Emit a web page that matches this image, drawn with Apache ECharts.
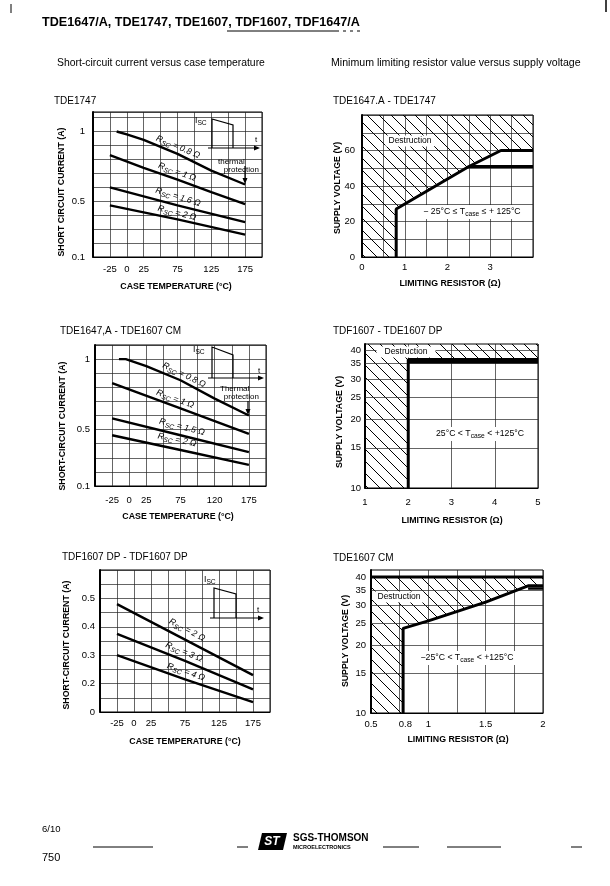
<!DOCTYPE html>
<html>
<head>
<meta charset="utf-8">
<title>TDE1647/A, TDE1747, TDE1607, TDF1607, TDF1647/A</title>
<script src="https://cdn.jsdelivr.net/npm/echarts@6.0.0/dist/echarts.min.js"></script>
<style>
  html, body { margin: 0; padding: 0; background: #fff; }
  #page { width: 610px; height: 886px; }
</style>
</head>
<body>
<div id="page"></div>
<script>
// ---- values ----

// case temperature axis (°C)
var tempTicks = [-25, 0, 25, 75, 125, 175];
var tempText = ['-25', '0', '25', '75', '125', '175'];
var tempText3 = ['-25', '0', '25', '75', '120', '175'];

// short-circuit current (A), TDE1747
var currentTicks = [0.1, 0.5, 1];
var currentText = ['0.1', '0.5', '1'];
var tde1747R08 = [[-15, 1.0], [0, 0.98], [25, 0.94], [75, 0.84], [125, 0.72], [175, 0.62]];
var tde1747R1 = [[-25, 0.83], [25, 0.74], [75, 0.655], [125, 0.565], [175, 0.48]];
var tde1747R16 = [[-25, 0.6], [75, 0.47], [175, 0.35]];
var tde1747R2 = [[-25, 0.47], [75, 0.37], [175, 0.26]];

// short-circuit current (A), TDE1647,A - TDE1607 CM
var cmR08 = [[-15, 1.0], [-5, 1.0], [25, 0.95], [75, 0.85], [125, 0.72], [175, 0.6]];
var cmR1 = [[-25, 0.83], [75, 0.65], [175, 0.47]];
var cmR15 = [[-25, 0.58], [75, 0.46], [175, 0.34]];
var cmR2 = [[-25, 0.46], [75, 0.355], [175, 0.25]];

// short-circuit current (A), TDF1607 DP
var dpTicks = [0.1, 0.2, 0.3, 0.4, 0.5];
var dpText = ['0', '0.2', '0.3', '0.4', '0.5'];
var dpR2 = [[-25, 0.48], [75, 0.355], [175, 0.23]];
var dpR3 = [[-25, 0.375], [75, 0.28], [175, 0.18]];
var dpR4 = [[-25, 0.3], [75, 0.215], [175, 0.135]];

// minimum limiting resistor (ohm) vs supply voltage (V)
var res2Ticks = [0, 1, 2, 3];
var volt2Ticks = [0, 20, 40, 60];
var tde1747Limit = [[0.8, 0], [0.8, 27], [2.5, 51], [3.25, 60], [4, 60]];
var tde1747Limit2 = [[2.5, 51], [4, 51]];

var res4Ticks = [1, 2, 3, 4, 5];
var voltLogTicks = [10, 15, 20, 25, 30, 35, 40];
var dpLimit = [[2, 10], [2, 36.5], [5, 36.5]];
var dpLimit2 = [[2, 35.5], [5, 35.5]];

var res6Ticks = [0.5, 0.8, 1, 1.5, 2];
var cmLimit = [[0.78, 10], [0.78, 23.7], [1.0, 25.6], [1.5, 31], [1.87, 36.6], [2, 36.6]];
var cmLimit2 = [[1.87, 35.6], [2, 35.6]];
var cmMaxVolt = [[0.5, 40], [2, 40]];

var FONT = '"Liberation Sans", Arial, Helvetica, sans-serif';

// diagonal hatching used for the "Destruction" areas
var hatchCanvas = document.createElement('canvas');
hatchCanvas.width = 12;
hatchCanvas.height = 12;
(function () {
    var ctx = hatchCanvas.getContext('2d');
    ctx.strokeStyle = '#000';
    ctx.lineWidth = 1;
    ctx.beginPath();
    ctx.moveTo(-1, -1); ctx.lineTo(13, 13);
    ctx.moveTo(-7, 5); ctx.lineTo(7, 19);
    ctx.moveTo(5, -7); ctx.lineTo(19, 7);
    ctx.stroke();
})();

function pick(vals, texts) {
    return function (v) {
        for (var i = 0; i < vals.length; i++) {
            if (Math.abs(vals[i] - v) < 1e-6) return texts ? texts[i] : String(vals[i]);
        }
        return '';
    };
}

var gridBox = { show: true, borderColor: '#000', borderWidth: 1, outerBoundsMode: 'none' };
var grids = [
    { left: 93, top: 112, width: 169, height: 145 },
    { left: 362, top: 115, width: 171, height: 142 },
    { left: 95, top: 345, width: 171, height: 141 },
    { left: 365, top: 344, width: 173, height: 144 },
    { left: 100, top: 570, width: 170, height: 142 },
    { left: 371, top: 570, width: 172, height: 143 }
].map(function (g) { return Object.assign({}, gridBox, g); });

var splitStyle = { show: true, lineStyle: { color: '#222', width: 0.7 } };

function linAxis(gi, min, max, interval, vals, texts, margin, isY) {
    return {
        type: 'value', gridIndex: gi, min: min, max: max, interval: interval,
        axisLine: { show: true, onZero: false, lineStyle: { color: '#000', width: isY ? 2 : 1.2 } },
        axisTick: { show: false },
        splitLine: splitStyle,
        axisLabel: { margin: margin, color: '#000', fontSize: 9.5, fontFamily: FONT, formatter: pick(vals, texts) }
    };
}

function logAxis(gi, max, margin) {
    return {
        type: 'log', logBase: 10, gridIndex: gi, min: 10, max: max,
        axisLine: { show: true, onZero: false, lineStyle: { color: '#000', width: 2 } },
        axisTick: { show: false },
        splitLine: { show: false },
        axisLabel: { margin: margin, color: '#000', fontSize: 9.5, fontFamily: FONT, customValues: voltLogTicks }
    };
}

var x6 = linAxis(5, 0.5, 2, 0.25, res6Ticks, null, 6, false);
x6.axisLabel.formatter = null;
x6.axisLabel.customValues = res6Ticks;

var xAxes = [
    linAxis(0, -50, 200, 25, tempTicks, tempText, 7, false),
    linAxis(1, 0, 4, 0.5, res2Ticks, null, 5, false),
    linAxis(2, -50, 200, 25, tempTicks, tempText3, 9, false),
    linAxis(3, 1, 5, 1, res4Ticks, null, 9, false),
    linAxis(4, -50, 200, 25, tempTicks, tempText, 6, false),
    x6
];
var yAxes = [
    linAxis(0, 0.1, 1.14, 0.1, currentTicks, currentText, 8, true),
    linAxis(1, 0, 80, 10, volt2Ticks, null, 7, true),
    linAxis(2, 0.1, 1.1, 0.1, currentTicks, currentText, 5, true),
    logAxis(3, 42.7, 4),
    linAxis(4, 0.1, 0.6, 0.05, dpTicks, dpText, 5, true),
    logAxis(5, 43, 5)
];

function curve(gi, data, w) {
    return {
        type: 'line', xAxisIndex: gi, yAxisIndex: gi, data: data, symbol: 'none', silent: true,
        lineStyle: { color: '#000', width: w || 2.4 }, z: 5
    };
}

function destruction(gi, data, origin, logGrid) {
    var s = {
        type: 'line', xAxisIndex: gi, yAxisIndex: gi, data: data, symbol: 'none', silent: true,
        lineStyle: { width: 0, opacity: 0 },
        areaStyle: { color: { image: hatchCanvas, repeat: 'repeat' }, opacity: 1, origin: origin },
        z: 3
    };
    if (logGrid) {
        s.markLine = {
            silent: true, symbol: ['none', 'none'], label: { show: false },
            lineStyle: { color: '#222', width: 0.7, type: 'solid' },
            data: voltLogTicks.slice(1).map(function (v) { return { yAxis: v }; })
        };
    }
    return s;
}

var series = [
    curve(0, tde1747R08), curve(0, tde1747R1), curve(0, tde1747R16), curve(0, tde1747R2),
    destruction(1, [[0, 0]].concat(tde1747Limit), 'end'),
    curve(1, tde1747Limit, 3), curve(1, tde1747Limit2, 3),
    curve(2, cmR08), curve(2, cmR1), curve(2, cmR15), curve(2, cmR2),
    destruction(3, [[1, 10]].concat(dpLimit), 'end', true),
    curve(3, dpLimit, 3), curve(3, dpLimit2, 2.5),
    curve(4, dpR2), curve(4, dpR3), curve(4, dpR4),
    destruction(5, [[0.5, 10]].concat(cmLimit), 40, true),
    curve(5, cmLimit, 3), curve(5, cmLimit2, 2.5), curve(5, cmMaxVolt, 3)
];

// ---- page text and the small pulse sketches ----
function T(x, y, text, o) {
    o = o || {};
    var st = {
        text: text, fill: o.fill || '#000', fontFamily: FONT, fontSize: o.size || 9.5,
        fontWeight: o.bold ? 'bold' : 'normal', fontStyle: o.italic ? 'italic' : 'normal',
        align: o.align || 'left', textAlign: o.align || 'left',
        verticalAlign: 'middle', textVerticalAlign: 'middle'
    };
    if (o.bg) { st.backgroundColor = o.bg; st.padding = o.pad || [1, 3]; }
    if (o.rich) st.rich = o.rich;
    return { type: 'text', x: x, y: y, rotation: o.rot || 0, z: 100, silent: true, style: st };
}
function L(points, w, dash) {
    return {
        type: 'polyline', z: 100, silent: true, shape: { points: points },
        style: { stroke: '#000', lineWidth: w || 1, lineDash: dash || null, fill: null }
    };
}
function head(x, y, dir) {
    var p = dir === 'right' ? [[x, y], [x - 6, y - 2.5], [x - 6, y + 2.5]]
        : [[x, y], [x - 2.5, y - 6], [x + 2.5, y - 6]];
    return { type: 'polygon', z: 100, silent: true, shape: { points: p }, style: { fill: '#000' } };
}

function subText(size, italic) {
    return {
        a: { fontFamily: FONT, fontSize: size, fontStyle: italic ? 'italic' : 'normal', lineHeight: 12, verticalAlign: 'middle' },
        s: { fontFamily: FONT, fontSize: size - 2, fontStyle: italic ? 'italic' : 'normal', lineHeight: 12, verticalAlign: 'bottom' }
    };
}
function rsc(x, y, val, rot) {
    return T(x, y, '{a|R}{s|SC}{a| = ' + val + ' \u03a9}', { align: 'center', rot: rot, rich: subText(8.7, true) });
}
function tcase(x, y, lo, op, hi) {
    return T(x, y, '{a|' + lo + ' ' + op + ' T}{s|case}{a| ' + op + ' ' + hi + '}', {
        align: 'center', bg: '#fff', pad: [1, 2], rich: subText(8.7, false)
    });
}
function isc(x, y) {
    return T(x, y, '{a|I}{s|SC}', { rich: subText(8.7, false) });
}
function pulse(xRise, yTop, xFall, ySlant, yBase, xEnd) {
    return [
        L([[xRise, yBase], [xRise, yTop], [xFall, ySlant], [xFall, yBase]], 1.2),
        L([[xRise - 4, yBase], [xEnd - 4, yBase]], 1.2),
        head(xEnd, yBase, 'right')
    ];
}

var yTitle = 'SHORT CIRCUIT CURRENT (A)';
var yTitle2 = 'SHORT-CIRCUIT CURRENT (A)';
var vTitle = 'SUPPLY VOLTAGE (V)';
var tTitle = 'CASE TEMPERATURE (\u00b0C)';
var rTitle = 'LIMITING RESISTOR (\u03a9)';
var axisFont = { size: 8.8, bold: true, align: 'center' };
function vert(x, y, text) { return T(x, y, text, Object.assign({ rot: Math.PI / 2 }, axisFont)); }

var elements = [
    L([[11, 4], [11, 13]], 1), L([[606, 0], [606, 12]], 1.5),
    T(42, 23, 'TDE1647/A, TDE1747, TDE1607, TDF1607, TDF1647/A', { size: 12.6, bold: true }),
    L([[227, 31], [336, 31]], 1), L([[336, 31], [362, 31]], 1, [3, 4]),
    T(57, 63, 'Short-circuit current versus case temperature', { size: 10.4 }),
    T(331, 63, 'Minimum limiting resistor value versus supply voltage', { size: 10.6 }),

    T(54, 101, 'TDE1747', { size: 10 }),
    T(333, 101, 'TDE1647.A - TDE1747', { size: 10 }),
    T(60, 331, 'TDE1647,A - TDE1607 CM', { size: 10 }),
    T(333, 331, 'TDF1607 - TDE1607 DP', { size: 10 }),
    T(62, 557, 'TDF1607 DP - TDF1607 DP', { size: 10 }),
    T(333, 558, 'TDE1607 CM', { size: 10 }),

    vert(62, 192, yTitle), vert(338, 188, vTitle),
    vert(63, 426, yTitle2), vert(340, 422, vTitle),
    vert(67, 645, yTitle2), vert(346, 641, vTitle),
    T(176, 287, tTitle, axisFont), T(450, 284, rTitle, axisFont),
    T(178, 517, tTitle, axisFont), T(452, 521, rTitle, axisFont),
    T(185, 742, tTitle, axisFont), T(458, 740, rTitle, axisFont),

    // TDE1747 panel
    rsc(178, 147, '0.8', -0.4), rsc(177, 172, '1', -0.35), rsc(178, 197, '1.6', -0.3), rsc(177, 213, '2', -0.25),
    isc(195, 121), T(255, 140, 't', { size: 8 }),
    T(218, 162, 'thermal', { size: 8 }), T(259, 170, 'protection', { size: 8, align: 'right' }),
    L([[245, 166], [245, 178]], 1.2), head(245, 184, 'down'),

    // TDE1647,A - TDE1607 CM panel
    rsc(184, 375, '0.8', -0.45), rsc(175, 399, '1', -0.35), rsc(182, 427, '1.5', -0.25), rsc(177, 440, '2', -0.21),
    isc(193, 350), T(258, 371, 't', { size: 8 }),
    T(220, 389, 'Thermal', { size: 8 }), T(259, 397, 'protection', { size: 8, align: 'right' }),
    L([[248, 401], [248, 409]], 1.2), head(248, 415, 'down'),

    // TDF1607 DP panel
    rsc(187, 630, '2', -0.48), rsc(184, 652, '3', -0.39), rsc(186, 672, '4', -0.33),
    isc(204, 580), T(257, 610, 't', { size: 8 }),

    // destruction / temperature notes
    T(410, 141, 'Destruction', { size: 8.5, align: 'center', bg: '#fff' }),
    T(406, 352, 'Destruction', { size: 8.5, align: 'center', bg: '#fff', pad: [1, 8] }),
    T(399, 597, 'Destruction', { size: 8.5, align: 'center', bg: '#fff' }),
    tcase(472, 212, '\u2212 25\u00b0C', '\u2264', '+ 125\u00b0C'),
    tcase(480, 434, '25\u00b0C', '<', '+125\u00b0C'),
    tcase(467, 658, '\u221225\u00b0C', '<', '+125\u00b0C'),

    // footer
    T(42, 829, '6/10', { size: 9.5 }),
    T(42, 858, '750', { size: 11 }),
    { type: 'polygon', z: 100, silent: true, shape: { points: [[262, 833], [287, 833], [283, 850], [258, 850]] }, style: { fill: '#000' } },
    T(272, 842, 'ST', { size: 12, bold: true, italic: true, align: 'center', fill: '#fff' }),
    T(293, 838, 'SGS-THOMSON', { size: 10, bold: true }),
    T(293, 847, 'MICROELECTRONICS', { size: 5.5, bold: true }),
    L([[93, 847], [153, 847]], 1), L([[237, 847], [248, 847]], 1),
    L([[383, 847], [419, 847]], 1), L([[447, 847], [501, 847]], 1), L([[571, 847], [582, 847]], 1)
];

elements = elements
    .concat(pulse(212, 119, 233, 125, 148, 260))
    .concat(pulse(212, 347, 233, 355, 378, 264))
    .concat(pulse(214, 588, 236, 594, 618, 264));

var chart = echarts.init(document.getElementById('page'), null, { renderer: 'canvas' });
chart.setOption({
    animation: false,
    backgroundColor: '#fff',
    textStyle: { fontFamily: FONT, color: '#000' },
    grid: grids,
    xAxis: xAxes,
    yAxis: yAxes,
    series: series,
    graphic: { elements: elements }
});
window.addEventListener('resize', function () { chart.resize(); });
</script>
</body>
</html>
